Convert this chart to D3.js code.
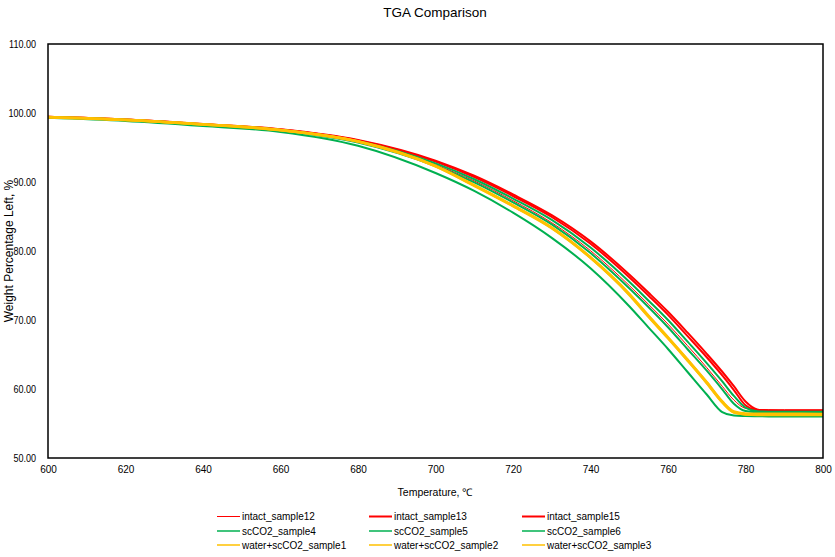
<!DOCTYPE html>
<html>
<head>
<meta charset="utf-8">
<script src="https://cdn.jsdelivr.net/npm/d3@7/dist/d3.min.js"></script>
<style>
  html, body { margin: 0; padding: 0; background: #fff; }
  svg { display: block; font-family: "Liberation Sans", Arial, sans-serif; }
</style>
</head>
<body>
<svg id="chart" width="835" height="557"></svg>
<script>
// Temperature grid (°C) shared by every sample
const temperatures = [600, 620, 640, 660, 680, 700, 710, 720, 730, 740, 750, 755, 760, 765, 770, 774, 777, 780, 783, 786, 790, 800];

// Weight percentage left for each sample
const intact_sample12 = [99.42, 99.00, 98.32, 97.50, 95.80, 92.50, 90.15, 87.30, 84.10, 80.05, 75.00, 72.25, 69.40, 66.30, 63.10, 60.40, 58.40, 57.20, 57.03, 57.00, 57.00, 57.00];
const intact_sample13 = [99.45, 99.05, 98.38, 97.60, 96.02, 92.95, 90.70, 87.97, 84.93, 81.05, 76.20, 73.52, 70.75, 67.70, 64.60, 61.97, 59.85, 57.65, 56.95, 56.88, 56.86, 56.85];
const intact_sample15 = [99.45, 99.05, 98.40, 97.65, 96.10, 93.10, 90.90, 88.20, 85.20, 81.40, 76.60, 73.95, 71.20, 68.20, 65.10, 62.50, 60.40, 58.20, 57.05, 56.85, 56.82, 56.80];
const scCO2_sample4 = [99.30, 98.85, 98.12, 97.25, 95.25, 91.30, 88.70, 85.55, 81.90, 77.50, 72.00, 68.90, 65.80, 62.50, 59.20, 56.65, 56.15, 56.08, 56.05, 56.03, 56.02, 56.00];
const scCO2_sample5 = [99.40, 99.00, 98.30, 97.45, 95.72, 92.32, 89.95, 87.05, 83.85, 79.70, 74.60, 71.85, 68.95, 65.80, 62.65, 59.95, 57.85, 56.80, 56.63, 56.60, 56.60, 56.60];
const scCO2_sample6 = [99.42, 99.02, 98.35, 97.55, 95.90, 92.70, 90.40, 87.60, 84.50, 80.50, 75.55, 72.80, 70.00, 66.90, 63.75, 61.10, 59.00, 57.30, 56.78, 56.72, 56.70, 56.70];
const water_scCO2_sample1 = [99.40, 99.00, 98.35, 97.55, 95.90, 92.35, 89.55, 86.60, 83.40, 79.10, 73.80, 70.60, 67.50, 64.30, 61.00, 58.20, 56.75, 56.45, 56.40, 56.40, 56.40, 56.38];
const water_scCO2_sample2 = [99.38, 98.98, 98.32, 97.50, 95.85, 92.25, 89.45, 86.50, 83.30, 79.00, 73.65, 70.45, 67.35, 64.15, 60.85, 58.05, 56.60, 56.35, 56.30, 56.30, 56.30, 56.28];
const water_scCO2_sample3 = [99.42, 99.02, 98.36, 97.52, 95.88, 92.30, 89.50, 86.55, 83.35, 79.05, 73.72, 70.52, 67.42, 64.22, 60.92, 58.12, 56.65, 56.32, 56.25, 56.25, 56.25, 56.22];

// Series names in legend order
const seriesNames = ["intact_sample12", "intact_sample13", "intact_sample15",
                     "scCO2_sample4", "scCO2_sample5", "scCO2_sample6",
                     "water+scCO2_sample1", "water+scCO2_sample2", "water+scCO2_sample3"];
const seriesValues = [intact_sample12, intact_sample13, intact_sample15,
                      scCO2_sample4, scCO2_sample5, scCO2_sample6,
                      water_scCO2_sample1, water_scCO2_sample2, water_scCO2_sample3];

// Axis ticks
const xTicks = [600, 620, 640, 660, 680, 700, 720, 740, 760, 780, 800];
const yTicks = [50, 60, 70, 80, 90, 100, 110];

// Styles per series
const seriesColors = ["#FF0000", "#FF0000", "#FF0000",
                      "#00B050", "#00B050", "#00B050",
                      "#FFC000", "#FFC000", "#FFC000"];
const seriesWidths = [1, 2, 2, 2, 2, 2, 2.5, 2.5, 2.5];

const svg = d3.select("#chart");
const plot = { left: 48, right: 823, top: 44, bottom: 458 };

const x = d3.scaleLinear().domain([600, 800]).range([plot.left, plot.right]);
const y = d3.scaleLinear().domain([50, 110]).range([plot.bottom, plot.top]);

// Title
svg.append("text")
  .attr("x", 435).attr("y", 17)
  .attr("text-anchor", "middle")
  .attr("font-size", 13.5)
  .attr("fill", "#000")
  .text("TGA Comparison");

// Curves
const line = d3.line()
  .x(d => x(d[0]))
  .y(d => y(d[1]))
  .curve(d3.curveMonotoneX);

const lines = svg.append("g");
seriesValues.forEach((vals, i) => {
  const pts = temperatures.map((t, j) => [t, vals[j]]);
  lines.append("path")
    .datum(pts)
    .attr("fill", "none")
    .attr("stroke", seriesColors[i])
    .attr("stroke-width", seriesWidths[i])
    .attr("stroke-linejoin", "round")
    .attr("d", line);
});

// Plot frame
svg.append("rect")
  .attr("x", plot.left).attr("y", plot.top)
  .attr("width", plot.right - plot.left)
  .attr("height", plot.bottom - plot.top)
  .attr("fill", "none")
  .attr("stroke", "#000")
  .attr("stroke-width", 1.5);

// Axes
const xAxis = svg.append("g")
  .attr("transform", `translate(0,${plot.bottom})`)
  .call(d3.axisBottom(x).tickValues(xTicks).tickSize(0).tickPadding(8).tickFormat(d3.format("d")));
xAxis.select(".domain").remove();
xAxis.selectAll("text").attr("font-size", 10).attr("fill", "#000").attr("font-family", "Liberation Sans, Arial, sans-serif");

const yAxis = svg.append("g")
  .attr("transform", `translate(${plot.left},0)`)
  .call(d3.axisLeft(y).tickValues(yTicks).tickSize(0).tickPadding(12).tickFormat(d3.format(".2f")));
yAxis.select(".domain").remove();
// narrow value labels, right-aligned 12px left of the frame
yAxis.selectAll("text")
  .attr("x", 0)
  .attr("transform", "translate(-12,0) scale(0.86,1)")
  .attr("font-size", 10.5).attr("fill", "#000").attr("font-family", "Liberation Sans, Arial, sans-serif");

// Axis titles
svg.append("text")
  .attr("x", 435).attr("y", 496)
  .attr("text-anchor", "middle")
  .attr("font-size", 10.5)
  .text("Temperature, ℃");

svg.append("text")
  .attr("transform", "translate(13,251) rotate(-90)")
  .attr("text-anchor", "middle")
  .attr("font-size", 12)
  .text("Weight Percentage Left, %");

// Legend: three columns, three rows
const legendCols = [217, 369, 522];
const legendRows = [516.5, 531, 545];
const legend = svg.append("g");
seriesNames.forEach((name, i) => {
  const cx = legendCols[i % 3];
  const cy = legendRows[Math.floor(i / 3)];
  legend.append("line")
    .attr("x1", cx).attr("x2", cx + 23)
    .attr("y1", cy).attr("y2", cy)
    .attr("stroke", seriesColors[i])
    .attr("stroke-width", i === 0 ? 1 : (i < 3 ? 2 : 1.5));
  legend.append("text")
    .attr("x", cx + 25).attr("y", cy + 3.5)
    .attr("font-size", 10)
    .text(name);
});
</script>
</body>
</html>
